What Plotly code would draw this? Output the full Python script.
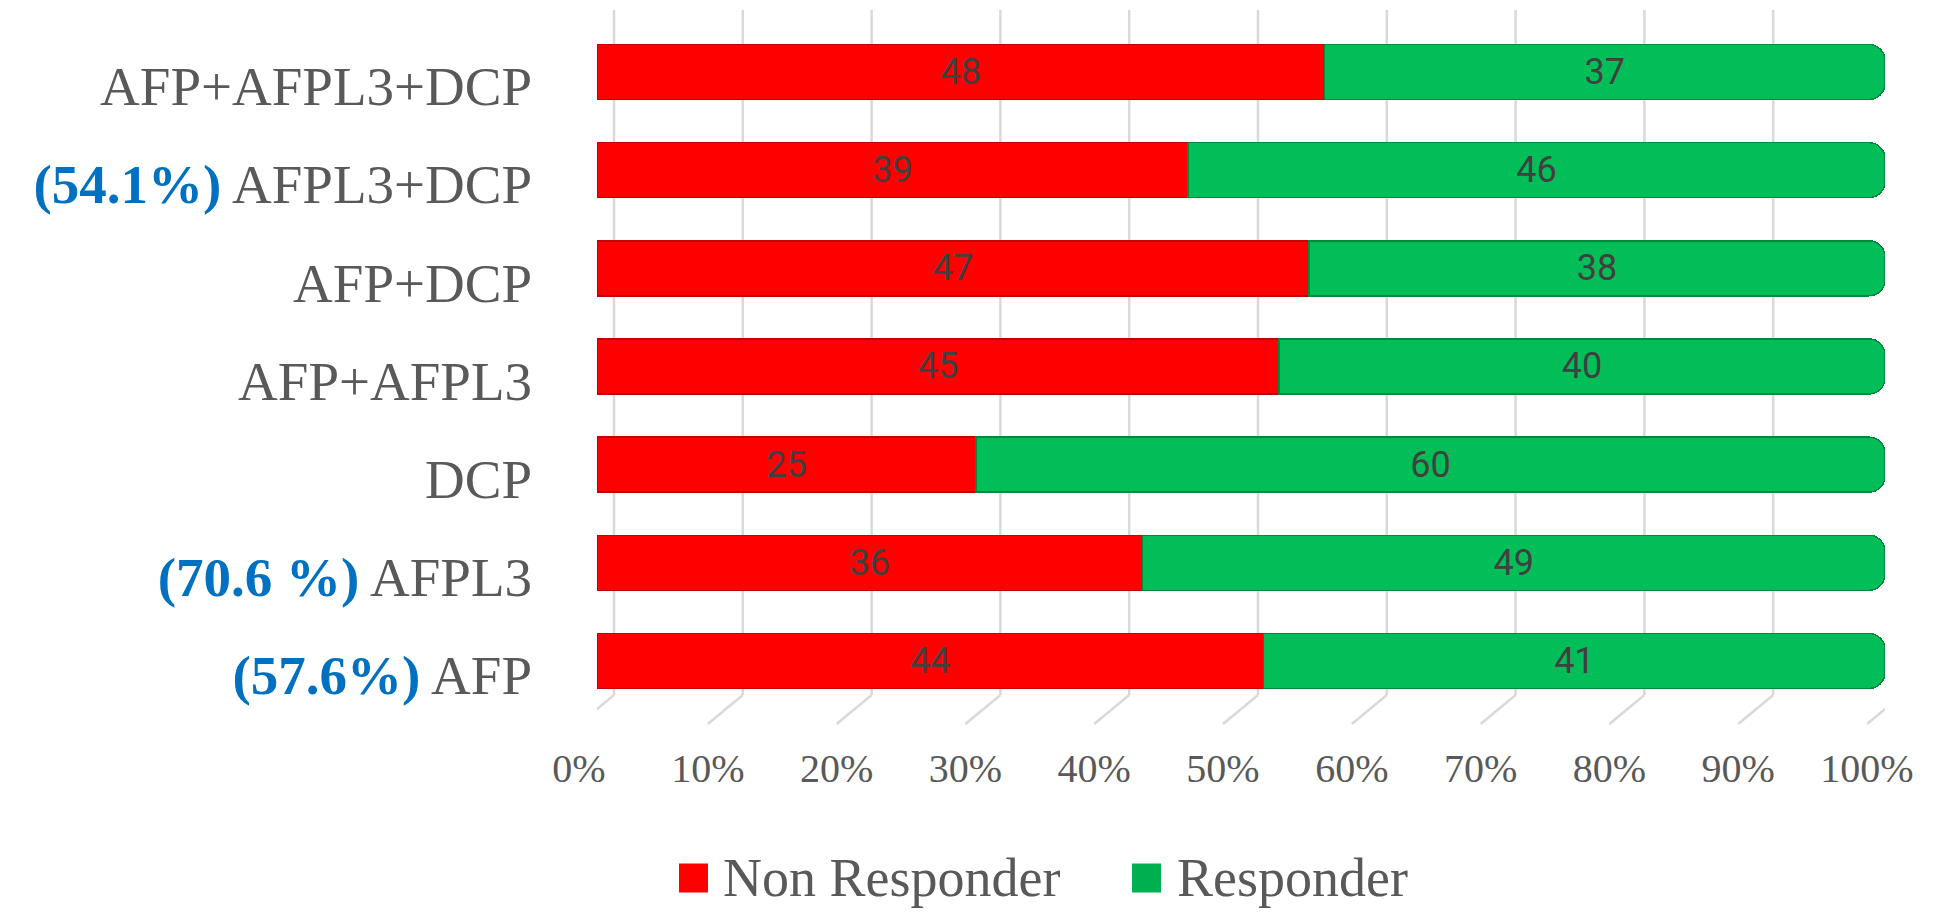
import plotly.graph_objects as go

# ---- data (bottom to top) ----
categories = ["AFP", "AFPL3", "DCP", "AFP+AFPL3", "AFP+DCP", "AFPL3+DCP", "AFP+AFPL3+DCP"]
highlights = ["(57.6%)", "(70.6 %)", "", "", "", "(54.1%)", ""]
non_responder = [44, 36, 25, 45, 47, 39, 48]
responder = [41, 49, 60, 40, 38, 46, 37]
x_ticks = [0, 10, 20, 30, 40, 50, 60, 70, 80, 90, 100]
x_tick_labels = [f"{v}%" for v in x_ticks]
series_names = ["Non Responder", "Responder"]
series_colors = ["#FF0000", "#02BE58"]
series_lines = ["#C40000", "#008A3C"]
legend_colors = ["#FF0000", "#00B050"]

SERIF = "Liberation Serif, Times New Roman, serif"
GRAY = "#595959"
BLUE = "#0070C0"

W, H = 1944, 919
ML, MR, MT, MB = 597, 59, 10, 195
PW, PH = W - ML - MR, H - MT - MB
DEPTH_BACK, DEPTH_FRONT = 17, -18
back_bottom = 29 / PH  # paper fraction where back wall meets floor


def px_to_paper_x(px):
    return (px - ML) / PW


def px_to_paper_y(py):
    return (H - MB - py) / PH


y_labels = []
for cat, hl in zip(categories, highlights):
    if hl:
        y_labels.append(f"<b><span style='color:{BLUE}'>{hl}</span></b> {cat}")
    else:
        y_labels.append(cat)

fig = go.Figure()
for name, vals, col, lcol in zip(series_names, [non_responder, responder],
                                 series_colors, series_lines):
    fig.add_trace(go.Bar(
        y=categories, x=vals, name=name, orientation="h",
        marker=dict(color=col, line=dict(color=lcol, width=1.5)),
        width=0.56,
        text=vals, texttemplate="%{text}", textposition="inside",
        insidetextanchor="middle", textangle=0,
        textfont=dict(family="Roboto, sans-serif", size=36, color="#404040"),
        constraintext="none", showlegend=False, hoverinfo="skip",
    ))

shapes = []
for v in x_ticks:
    shapes.append(dict(type="line", xref="x", xsizemode="pixel", xanchor=v,
                       x0=DEPTH_BACK, x1=DEPTH_BACK, yref="paper",
                       y0=back_bottom, y1=1, layer="below",
                       line=dict(color="#D9D9D9", width=2.5)))
    shapes.append(dict(type="line", xref="x", xsizemode="pixel", xanchor=v,
                       x0=DEPTH_BACK, x1=DEPTH_FRONT, yref="paper",
                       y0=back_bottom, y1=0, layer="below",
                       line=dict(color="#D9D9D9", width=2.5)))

# custom legend (large swatches)
legend_x = [679, 1132]
legend_text_x = [721, 1175]
legend_y = 878
sw = 29
annotations = []
for name, col, sx, tx in zip(series_names, legend_colors, legend_x, legend_text_x):
    shapes.append(dict(type="rect", xref="paper", yref="paper",
                       x0=px_to_paper_x(sx), x1=px_to_paper_x(sx + sw),
                       y0=px_to_paper_y(legend_y + sw / 2), y1=px_to_paper_y(legend_y - sw / 2),
                       fillcolor=col, line=dict(width=0)))
    annotations.append(dict(xref="paper", yref="paper", x=px_to_paper_x(tx),
                            y=px_to_paper_y(legend_y), xanchor="left", yanchor="middle",
                            text=name, showarrow=False,
                            font=dict(family=SERIF, size=54, color=GRAY)))

fig.update_layout(
    width=W, height=H,
    margin=dict(l=ML, r=MR, t=MT, b=MB),
    paper_bgcolor="white", plot_bgcolor="white",
    barmode="stack", barnorm="percent", barcornerradius=16,
    showlegend=False,
    shapes=shapes, annotations=annotations,
    xaxis=dict(range=[0, 100], tickmode="array", tickvals=x_ticks, ticktext=x_tick_labels,
               showgrid=False, zeroline=False, showline=False, ticks="",
               tickfont=dict(family=SERIF, size=40, color=GRAY),
               ticklabelshift=-18, ticklabelstandoff=17),
    yaxis=dict(type="category", categoryorder="array", categoryarray=categories,
               range=[-0.642, 6.631], tickmode="array", tickvals=categories, ticktext=y_labels,
               showgrid=False, zeroline=False, showline=False, ticks="",
               tickfont=dict(family=SERIF, size=55, color=GRAY),
               ticklabelshift=14, ticklabelstandoff=64),
)

fig.write_html("out.html")
